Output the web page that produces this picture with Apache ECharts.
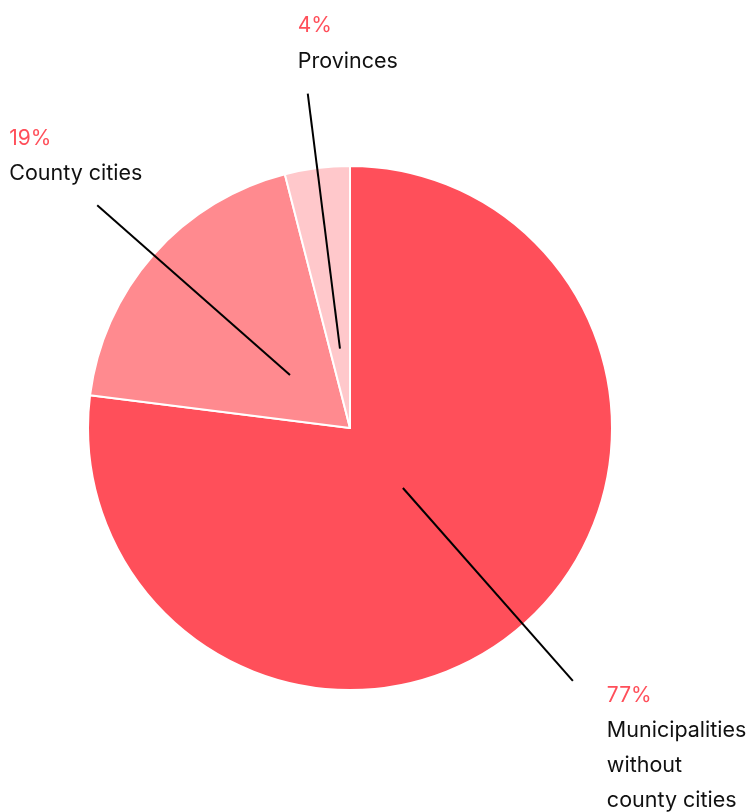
<!DOCTYPE html>
<html>
<head>
<meta charset="utf-8">
<script src="https://cdn.jsdelivr.net/npm/echarts@6/dist/echarts.min.js"></script>
<style>
html,body{margin:0;padding:0;background:#fff;}
#chart{width:750px;height:812px;}
</style>
</head>
<body>
<div id="chart"></div>
<script>
// ---- data ----
const categories = ['Municipalities\nwithout\ncounty cities', 'County cities', 'Provinces'];
const shares = [77, 19, 4];
const percentLabels = ['77%', '19%', '4%'];

// ---- style ----
const colors = ['#ff4f5a', '#ff8a8f', '#ffc8cb'];
const CX = 350, CY = 428, R = 262;
const LINE_R0 = 80, LINE_R1 = 337;
const labelPlacement = [
  { dx: 34, dy: -3, va: 'top' },
  { dx: -88, dy: -14, va: 'bottom' },
  { dx: -10, dy: -15, va: 'bottom' }
];

const total = shares.reduce((a, b) => a + b, 0);
const midAngles = [];
let acc = 0;
shares.forEach(v => { midAngles.push((acc + v / 2) / total * 360); acc += v; });

const chart = echarts.init(document.getElementById('chart'), null, { renderer: 'canvas' });
const font = 'Inter, "Noto Sans", sans-serif';

const data = categories.map((c, i) => ({ name: c, value: shares[i], itemStyle: { color: colors[i] } }));

chart.setOption({
  animation: false,
  series: [
    {
      type: 'pie',
      center: [CX, CY],
      radius: [0, R],
      startAngle: 90,
      clockwise: true,
      avoidLabelOverlap: false,
      silent: true,
      itemStyle: { borderColor: '#fff', borderWidth: 2 },
      emphasis: { disabled: true },
      label: {
        show: true,
        position: 'outside',
        fontFamily: font,
        formatter: p => {
          const lines = p.name.split('\n').map(s => '{n|' + s + '}');
          return '{p|' + percentLabels[p.dataIndex] + '}\n' + lines.join('\n');
        },
        rich: {
          p: { color: '#ff4f5a', fontSize: 21, lineHeight: 35, fontFamily: font },
          n: { color: '#111', fontSize: 21.5, lineHeight: 35, fontFamily: font }
        }
      },
      labelLine: { show: false },
      labelLayout: p => {
        const i = p.dataIndex;
        const a = midAngles[i] * Math.PI / 180;
        const ex = CX + LINE_R1 * Math.sin(a);
        const ey = CY - LINE_R1 * Math.cos(a);
        const o = labelPlacement[i];
        return { x: ex + o.dx, y: ey + o.dy, align: 'left', verticalAlign: o.va };
      },
      data: data
    },
    {
      type: 'pie',
      center: [CX, CY],
      radius: [0, LINE_R0],
      startAngle: 90,
      clockwise: true,
      avoidLabelOverlap: false,
      silent: true,
      z: 5,
      emphasis: { disabled: true },
      itemStyle: { color: 'rgba(0,0,0,0)', borderWidth: 0 },
      label: { show: true, position: 'outside', formatter: ' ', fontSize: 1 },
      labelLine: {
        show: true,
        length: LINE_R1 - LINE_R0,
        length2: 0,
        smooth: false,
        lineStyle: { color: '#000', width: 2 }
      },
      data: categories.map((c, i) => ({ name: c, value: shares[i] }))
    }
  ]
});
</script>
</body>
</html>
